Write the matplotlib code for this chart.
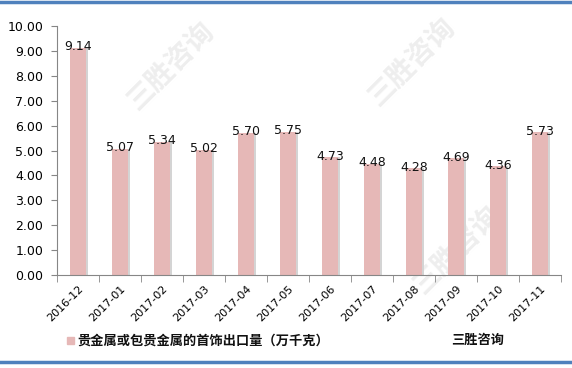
import matplotlib
matplotlib.use("Agg")
import matplotlib.pyplot as plt
from matplotlib.lines import Line2D
import numpy as np

plt.rcParams['font.family'] = ['DejaVu Sans', 'Noto Sans CJK SC']

months = ["2016-12", "2017-01", "2017-02", "2017-03", "2017-04", "2017-05",
          "2017-06", "2017-07", "2017-08", "2017-09", "2017-10", "2017-11"]
values = [9.14, 5.07, 5.34, 5.02, 5.70, 5.75, 4.73, 4.48, 4.28, 4.69, 4.36, 5.73]
series_name = "贵金属或包贵金属的首饰出口量（万千克）"
source = "三胜咨询"

fig = plt.figure(figsize=(5.72, 3.68), dpi=100)

# watermarks, behind the chart
for wx, wy in [(0.30, 0.82), (0.72, 0.83), (0.80, 0.32)]:
    fig.text(wx, wy, source, rotation=45, fontsize=20, color="#eeeeee",
             ha="center", va="center", family="Noto Sans CJK SC", zorder=0,
             fontweight="bold")

ax = fig.add_axes([0.0997, 0.2527, 0.8813, 0.6763], zorder=1)
ax.patch.set_alpha(0)

x = np.arange(len(months))
bar_color = "#E6B8B7"
# thin shadow to the right of each bar
ax.bar(x + 0.05, values, width=0.38, color="#d4d4d4", zorder=1)
ax.bar(x, values, width=0.38, color=bar_color, zorder=2)

for xi, v in zip(x, values):
    ax.text(xi, v + 0.05, f"{v:.2f}", ha="center", va="center", fontsize=9,
            color="#111111", zorder=3)

ax.set_xlim(-0.5, len(months) - 0.5)
ax.set_ylim(0, 10)
ax.set_yticks(np.arange(0, 10.01, 1))
ax.set_yticklabels([f"{t:.2f}" for t in np.arange(0, 10.01, 1)], fontsize=9)

ax.set_xticks(x)
ax.set_xticklabels(months, rotation=45, ha="right", rotation_mode="anchor", fontsize=8)
ax.tick_params(axis="x", length=0, pad=6)
ax.set_xticks(np.arange(-0.5, len(months)), minor=True)
ax.tick_params(axis="x", which="minor", length=5, direction="out", color="#868686")
ax.tick_params(axis="y", length=4, direction="out", color="#868686", pad=6)

for s in ["top", "right"]:
    ax.spines[s].set_visible(False)
ax.spines["left"].set_color("#868686")
ax.spines["bottom"].set_color("#868686")

# legend
fig.patches.append(plt.Rectangle((0.117, 0.065), 0.012, 0.02, transform=fig.transFigure,
                                 color=bar_color, figure=fig))
fig.text(0.135, 0.075, series_name, fontsize=9.5, va="center", ha="left",
         family="Noto Sans CJK SC", fontweight="bold", color="#111111")
fig.text(0.835, 0.075, source, fontsize=9.5, va="center", ha="center",
         family="Noto Sans CJK SC", fontweight="bold", color="#111111")

# border lines top and bottom
fig.lines.append(Line2D([0, 1], [0.995, 0.995], transform=fig.transFigure,
                        color="#4F81BD", linewidth=2.5))
fig.lines.append(Line2D([0, 1], [0.017, 0.017], transform=fig.transFigure,
                        color="#4F81BD", linewidth=2.5))

fig.savefig("out.png", dpi=100)
